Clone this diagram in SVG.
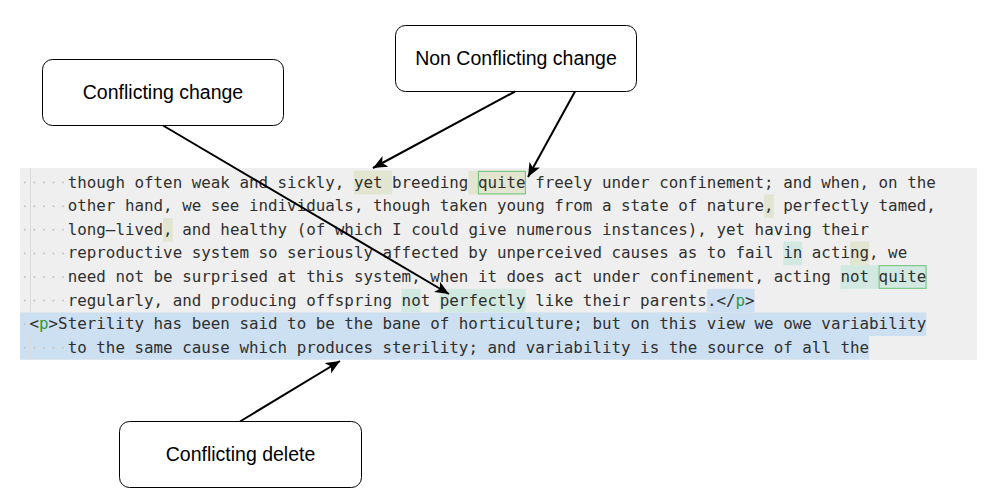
<svg xmlns="http://www.w3.org/2000/svg" width="989" height="498" viewBox="0 0 989 498">
<style>
.code{font-family:"DejaVu Sans Mono","Liberation Mono",monospace;font-size:15.85px;fill:#2f2f2f}
.tag{fill:#2f9a3b}
.olive{fill:#e2e5d0}
.teal{fill:#d2e9e1}
.blue{fill:#cde0f2}
.gbox{fill:none;stroke:#6cc477;stroke-width:1}
.dot{fill:#c4c4c4}
.box{fill:#ffffff;stroke:#000000;stroke-width:1}
.lbl{font-family:"Liberation Sans",Arial,Helvetica,sans-serif;font-size:19.5px;fill:#000000;text-anchor:middle}
.conn{fill:none;stroke:#000000;stroke-width:2}
</style>
<defs>
<marker id="arrow" markerUnits="userSpaceOnUse" markerWidth="16" markerHeight="12" refX="14" refY="6" orient="auto">
<path d="M0,0 L14,6 L0,12 L3.5,6 Z" fill="#000000"/>
</marker>
</defs>
<rect width="989" height="498" fill="#ffffff"/>
<g id="editor">
<rect x="20" y="168" width="957" height="192" fill="#efefef"/>
<!-- highlights -->
<rect class="olive" x="353.9" y="170.8" width="38.2" height="23.6"/>
<rect class="olive" x="468.4" y="170.8" width="57.2" height="23.6"/>
<rect class="olive" x="764.1" y="194.4" width="9.54" height="23.6"/>
<rect class="olive" x="163.1" y="218" width="9.54" height="23.6"/>
<rect class="teal" x="783.2" y="241.6" width="19.1" height="23.6"/>
<rect class="olive" x="850" y="241.6" width="19.1" height="23.6"/>
<rect class="teal" x="840.4" y="265.2" width="85.9" height="23.6"/>
<rect class="teal" x="401.6" y="288.8" width="19.1" height="23.6"/>
<rect class="teal" x="439.8" y="288.8" width="85.9" height="23.6"/>
<rect class="blue" x="706.9" y="288.8" width="47.7" height="23.6"/>
<rect class="blue" x="20" y="312.4" width="906.3" height="23.6"/>
<rect class="blue" x="20" y="336" width="849.1" height="23.6"/>
<rect class="gbox" x="478.4" y="171.3" width="47" height="22.6"/>
<rect class="gbox" x="879.1" y="265.7" width="47" height="22.6"/>
<!-- indent guide -->
<path d="M30.5,168 V312.4 M30.5,336 V360" stroke="#dadada" stroke-width="1" fill="none"/>
<!-- leading whitespace dots -->
<g class="dot">
<circle cx="24.8" cy="182.6" r="1"/><circle cx="34.3" cy="182.6" r="1"/><circle cx="43.9" cy="182.6" r="1"/><circle cx="53.4" cy="182.6" r="1"/><circle cx="62.9" cy="182.6" r="1"/>
<circle cx="24.8" cy="206.2" r="1"/><circle cx="34.3" cy="206.2" r="1"/><circle cx="43.9" cy="206.2" r="1"/><circle cx="53.4" cy="206.2" r="1"/><circle cx="62.9" cy="206.2" r="1"/>
<circle cx="24.8" cy="229.8" r="1"/><circle cx="34.3" cy="229.8" r="1"/><circle cx="43.9" cy="229.8" r="1"/><circle cx="53.4" cy="229.8" r="1"/><circle cx="62.9" cy="229.8" r="1"/>
<circle cx="24.8" cy="253.4" r="1"/><circle cx="34.3" cy="253.4" r="1"/><circle cx="43.9" cy="253.4" r="1"/><circle cx="53.4" cy="253.4" r="1"/><circle cx="62.9" cy="253.4" r="1"/>
<circle cx="24.8" cy="277" r="1"/><circle cx="34.3" cy="277" r="1"/><circle cx="43.9" cy="277" r="1"/><circle cx="53.4" cy="277" r="1"/><circle cx="62.9" cy="277" r="1"/>
<circle cx="24.8" cy="300.6" r="1"/><circle cx="34.3" cy="300.6" r="1"/><circle cx="43.9" cy="300.6" r="1"/><circle cx="53.4" cy="300.6" r="1"/><circle cx="62.9" cy="300.6" r="1"/>
<circle cx="24.8" cy="324.2" r="1"/>
<circle cx="24.8" cy="347.8" r="1"/><circle cx="34.3" cy="347.8" r="1"/><circle cx="43.9" cy="347.8" r="1"/><circle cx="53.4" cy="347.8" r="1"/><circle cx="62.9" cy="347.8" r="1"/>
</g>
<!-- code text -->
<text class="code" x="67.7" y="187.6" textLength="868.1" lengthAdjust="spacing">though often weak and sickly, yet breeding quite freely under confinement; and when, on the</text>
<text class="code" x="67.7" y="211.2" textLength="868.1" lengthAdjust="spacing">other hand, we see individuals, though taken young from a state of nature, perfectly tamed,</text>
<text class="code" x="67.7" y="234.8" textLength="801.4" lengthAdjust="spacing">long–lived, and healthy (of which I could give numerous instances), yet having their</text>
<text class="code" x="67.7" y="258.4" textLength="839.5" lengthAdjust="spacing">reproductive system so seriously affected by unperceived causes as to fail in acting, we</text>
<text class="code" x="67.7" y="282" textLength="858.6" lengthAdjust="spacing">need not be surprised at this system, when it does act under confinement, acting not quite</text>
<text class="code" x="67.7" y="305.6" textLength="686.9" lengthAdjust="spacing">regularly, and producing offspring not perfectly like their parents.&lt;/<tspan class="tag">p</tspan>&gt;</text>
<text class="code" x="29.5" y="329.2" textLength="896.8" lengthAdjust="spacing">&lt;<tspan class="tag">p</tspan>&gt;Sterility has been said to be the bane of horticulture; but on this view we owe variability</text>
<text class="code" x="67.7" y="352.8" textLength="801.4" lengthAdjust="spacing">to the same cause which produces sterility; and variability is the source of all the</text>
</g>
<g id="node-conflicting-change">
<rect class="box" x="42.5" y="59.5" width="241" height="66" rx="10" ry="10"/>
<text class="lbl" x="163" y="99">Conflicting change</text>
</g>
<g id="node-non-conflicting-change">
<rect class="box" x="395.5" y="25.5" width="241" height="66" rx="10" ry="10"/>
<text class="lbl" x="516" y="65">Non Conflicting change</text>
</g>
<g id="node-conflicting-delete">
<rect class="box" x="119.5" y="421.5" width="242" height="66" rx="10" ry="10"/>
<text class="lbl" x="240.5" y="461">Conflicting delete</text>
</g>
<g id="connectors">
<line class="conn" x1="515" y1="91.5" x2="373" y2="168" marker-end="url(#arrow)"/>
<line class="conn" x1="575" y1="91.5" x2="528" y2="177" marker-end="url(#arrow)"/>
<line class="conn" x1="163" y1="125.5" x2="449" y2="294" marker-end="url(#arrow)"/>
<line class="conn" x1="240" y1="421.5" x2="340" y2="361" marker-end="url(#arrow)"/>
</g>
</svg>
